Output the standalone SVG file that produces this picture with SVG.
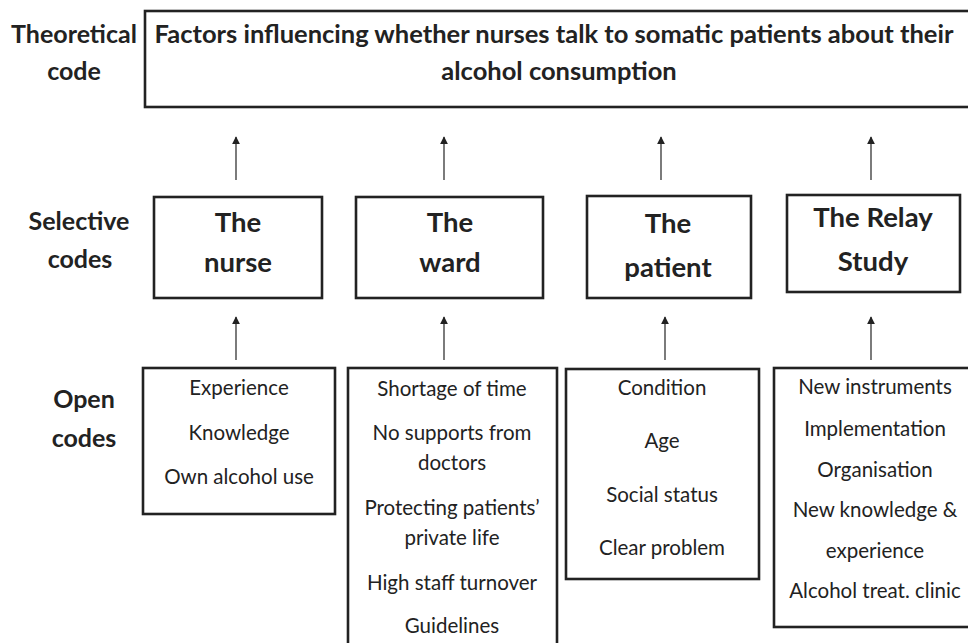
<svg xmlns="http://www.w3.org/2000/svg" width="968" height="643" viewBox="0 0 968 643">
<defs>
<marker id="ah" viewBox="0 0 10 10" refX="9" refY="5" markerWidth="8" markerHeight="8" markerUnits="userSpaceOnUse" orient="auto">
<path d="M0,0 L10,5 L0,10 z" fill="#222"/>
</marker>
<style>
.box{fill:#fff;stroke:#222;stroke-width:2.6}
.lab{font-family:Lato,"Open Sans",sans-serif;font-weight:bold;font-size:25px;fill:#222;text-anchor:middle}
.ttl{font-size:25.5px}
.sel{font-family:Lato,"Open Sans",sans-serif;font-weight:bold;font-size:27.5px;fill:#222;text-anchor:middle}
.oc{font-family:Lato,"Open Sans",sans-serif;font-size:20.5px;fill:#222;text-anchor:middle}
.arr{stroke:#444;stroke-width:1.4;fill:none;marker-end:url(#ah)}
</style>
</defs>
<rect width="968" height="643" fill="#fff"/>
<g id="row-labels">
<text class="lab" x="74" y="43">Theoretical</text>
<text class="lab" x="74" y="80">code</text>
<text class="lab" x="79" y="230">Selective</text>
<text class="lab" x="80" y="268">codes</text>
<text class="lab" x="84" y="408">Open</text>
<text class="lab" x="84" y="447">codes</text>
</g>
<g id="theoretical">
<rect class="box" x="145" y="11" width="830" height="96"/>
<text class="lab ttl" x="554" y="43">Factors influencing whether nurses talk to somatic patients about their</text>
<text class="lab ttl" x="559" y="80">alcohol consumption</text>
</g>
<g id="sel-nurse">
<rect class="box" x="154" y="197" width="168" height="101"/>
<text class="sel" x="238" y="232">The</text>
<text class="sel" x="238" y="272">nurse</text>
</g>
<g id="sel-ward">
<rect class="box" x="356" y="197" width="187" height="101"/>
<text class="sel" x="450" y="232">The</text>
<text class="sel" x="450" y="272">ward</text>
</g>
<g id="sel-patient">
<rect class="box" x="587" y="196" width="164" height="102"/>
<text class="sel" x="668" y="233">The</text>
<text class="sel" x="668" y="277">patient</text>
</g>
<g id="sel-relay">
<rect class="box" x="787" y="195" width="173" height="97"/>
<text class="sel" x="873" y="227">The Relay</text>
<text class="sel" x="873" y="271">Study</text>
</g>
<g id="open-nurse">
<rect class="box" x="143" y="368" width="192" height="146"/>
<text class="oc" x="239" y="395">Experience</text>
<text class="oc" x="239" y="440">Knowledge</text>
<text class="oc" x="239" y="484">Own alcohol use</text>
</g>
<g id="open-ward">
<rect class="box" x="348" y="368" width="209" height="290"/>
<text class="oc" x="452" y="396">Shortage of time</text>
<text class="oc" x="452" y="440">No supports from</text>
<text class="oc" x="452" y="470">doctors</text>
<text class="oc" x="452" y="515">Protecting patients’</text>
<text class="oc" x="452" y="545">private life</text>
<text class="oc" x="452" y="590">High staff turnover</text>
<text class="oc" x="452" y="633">Guidelines</text>
</g>
<g id="open-patient">
<rect class="box" x="566" y="369" width="193" height="210"/>
<text class="oc" x="662" y="395">Condition</text>
<text class="oc" x="662" y="448">Age</text>
<text class="oc" x="662" y="502">Social status</text>
<text class="oc" x="662" y="555">Clear problem</text>
</g>
<g id="open-relay">
<rect class="box" x="774" y="368" width="200" height="259"/>
<text class="oc" x="875" y="394">New instruments</text>
<text class="oc" x="875" y="436">Implementation</text>
<text class="oc" x="875" y="477">Organisation</text>
<text class="oc" x="875" y="517">New knowledge &amp;</text>
<text class="oc" x="875" y="558">experience</text>
<text class="oc" x="875" y="598">Alcohol treat. clinic</text>
</g>
<g id="connectors">
<line class="arr" x1="236" y1="180" x2="236" y2="137"/>
<line class="arr" x1="444" y1="180" x2="444" y2="137"/>
<line class="arr" x1="661" y1="180" x2="661" y2="137"/>
<line class="arr" x1="871" y1="180" x2="871" y2="137"/>
<line class="arr" x1="236" y1="360" x2="236" y2="317"/>
<line class="arr" x1="444" y1="360" x2="444" y2="317"/>
<line class="arr" x1="665" y1="360" x2="665" y2="317"/>
<line class="arr" x1="871" y1="360" x2="871" y2="317"/>
</g>
</svg>
